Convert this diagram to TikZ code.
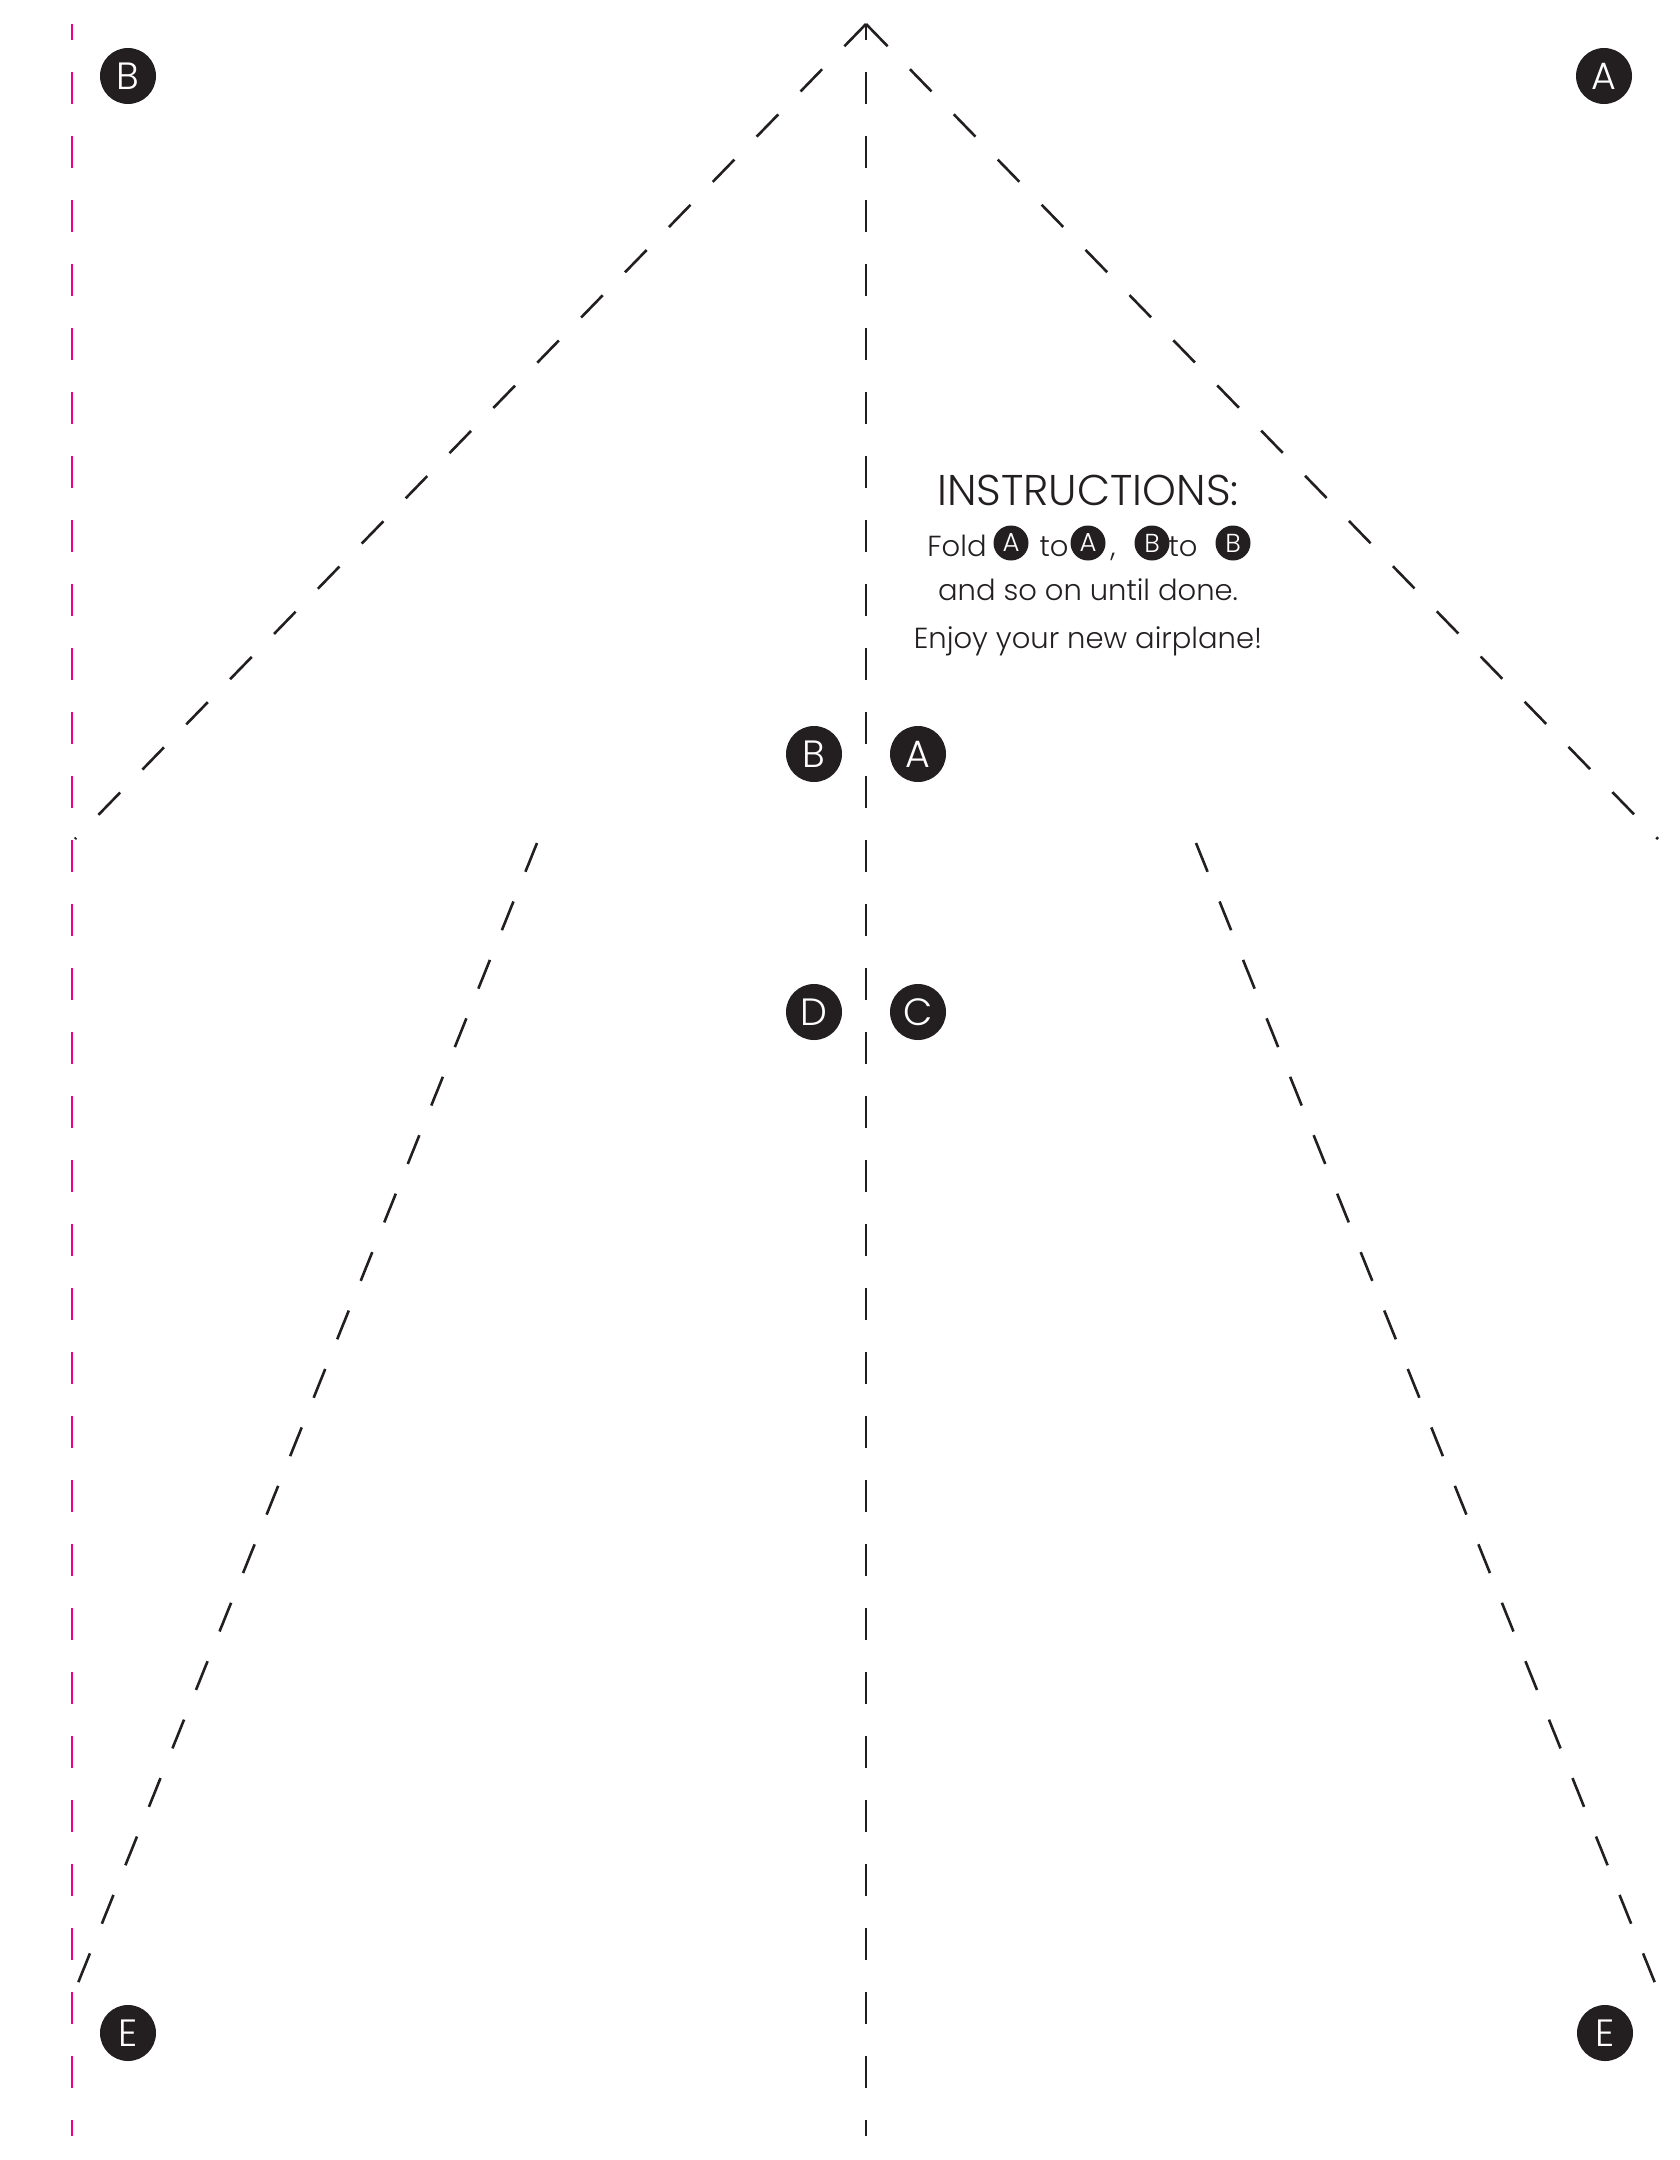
\documentclass[tikz,border=0pt]{standalone}
\usepackage{fontspec}
\setmainfont{Poppins}[UprightFont=* Light]
\usepackage{xcolor}
\usetikzlibrary{calc,positioning}
\definecolor{ink}{HTML}{231F20}
\definecolor{cutpink}{HTML}{EC008C}

\begin{document}
\begin{tikzpicture}[x=1pt,y=-1pt,
    foldline/.style={ink, line width=2.6pt, dash pattern=on 32pt off 32pt, dash phase=16pt},
    wingline/.style={ink, line width=2.6pt, dash pattern=on 31pt off 32pt},
    cutline/.style={cutpink, line width=2.4pt, dash pattern=on 32pt off 32pt, dash phase=16pt},
    marker/.style={circle, fill=ink, text=white, minimum size=56pt, inner sep=0pt, font=\fontsize{38}{38}\selectfont},
    smallmarker/.style={marker, minimum size=35pt, font=\fontsize{26}{26}\selectfont},
    txt/.style={text=ink, inner sep=0pt, anchor=base, font=\fontsize{29}{33}\selectfont}]

    \useasboundingbox (0,0) rectangle (1680,2160);

    % Points
    \coordinate (top) at (866,24);
    \coordinate (bottom) at (866,2136);
    \coordinate (cuttop) at (72,24);
    \coordinate (cutbottom) at (72,2136);
    \coordinate (wingL) at (75,839);
    \coordinate (wingR) at (1658,839);
    \coordinate (tailLtop) at (537,843);
    \coordinate (tailLend) at (78,1983);
    \coordinate (tailRtop) at (1196,843);
    \coordinate (tailRend) at (1655,1983);

    % Cut line
    \draw[cutline] (cuttop) -- (cutbottom);

    % Middle fold
    \draw[foldline] (top) -- (bottom);

    % Nose folds
    \draw[wingline] (top) -- (wingL);
    \draw[wingline] (top) -- (wingR);

    % Wing folds
    \draw[wingline] (tailLtop) -- (tailLend);
    \draw[wingline] (tailRtop) -- (tailRend);

    % Markers
    \foreach \nm/\x/\y/\l in {bTL/128/76/B, aTR/1604/76/A, bM/814/754/B, aM/918/754/A,
                              dM/814/1012/D, cM/918/1012/C, eBL/128/2033/E, eBR/1605/2033/E} {
        \node[marker] (\nm) at (\x,\y) {\l};
    }

    % Instructions
    \node[txt, font=\fontsize{43}{43}\selectfont] (title) at (1088,505) {INSTRUCTIONS:};
    \node[txt] (fold) at (957,556) {Fold};
    \node[smallmarker] (sA1) at (1011,543) {A};
    \node[txt] (to1) at (1054,556) {to};
    \node[smallmarker] (sA2) at (1088,543) {A};
    \node[txt] (comma) at (1113,556) {,};
    \node[smallmarker] (sB1) at (1152,543) {B};
    \node[txt] (to2) at (1183,556) {to};
    \node[smallmarker] (sB2) at (1233,543) {B};
    \node[txt] (line3) at (1088,600) {and so on until done.};
    \node[txt] (line4) at (1088,648) {Enjoy your new airplane!};

\end{tikzpicture}
\end{document}
